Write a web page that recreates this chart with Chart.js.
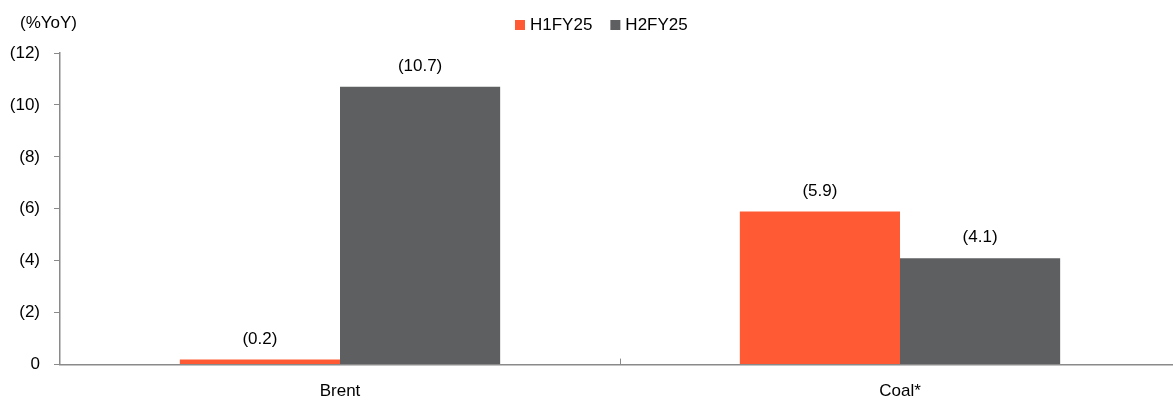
<!DOCTYPE html>
<html>
<head>
<meta charset="utf-8">
<script src="https://cdn.jsdelivr.net/npm/chart.js@4/dist/chart.umd.min.js"></script>
<style>
  html, body { margin: 0; padding: 0; background: #fff; overflow: hidden; }
  #wrap { width: 1180px; height: 401px; }
</style>
</head>
<body>
<div id="wrap"><canvas id="c" width="1180" height="401"></canvas></div>
<script>
// Commodity price change, %YoY (declines shown in parentheses)
const categories = ['Brent', 'Coal*'];
const seriesNames = ['H1FY25', 'H2FY25'];
const h1fy25 = [0.2, 5.9];
const h2fy25 = [10.7, 4.1];
const yTicks = [0, 2, 4, 6, 8, 10, 12];

const colors = ['#FF5A33', '#5E5F61'];
const FONT = 'Liberation Sans, Arial, sans-serif';
const AXIS = '#8a8a8a';

const paren = v => (v === 0 ? '0' : '(' + v + ')');

// Value labels above each bar
const valueLabels = {
  id: 'valueLabels',
  afterDatasetsDraw(chart) {
    const ctx = chart.ctx;
    ctx.save();
    ctx.font = '17px ' + FONT;
    ctx.fillStyle = '#000';
    ctx.textAlign = 'center';
    ctx.textBaseline = 'bottom';
    chart.data.datasets.forEach((ds, di) => {
      chart.getDatasetMeta(di).data.forEach((bar, i) => {
        ctx.fillText('(' + ds.data[i].toFixed(1) + ')', bar.x, bar.y - 12);
      });
    });
    ctx.restore();
  }
};

// Unit caption, legend and inner category-boundary ticks
const decorations = {
  id: 'decorations',
  afterDraw(chart) {
    const ctx = chart.ctx;
    const area = chart.chartArea;
    ctx.save();
    ctx.font = '17px ' + FONT;
    ctx.fillStyle = '#000';
    ctx.textBaseline = 'middle';
    ctx.textAlign = 'left';
    ctx.fillText('(%YoY)', 20, 23);

    // legend
    let x = 515;
    chart.data.datasets.forEach((ds, i) => {
      ctx.fillStyle = ds.backgroundColor;
      ctx.fillRect(x, 20, 10, 10);
      ctx.fillStyle = '#000';
      ctx.fillText(ds.label, x + 15, 25);
      x += 15 + ctx.measureText(ds.label).width + 18;
    });

    // boundary ticks on the category axis, pointing into the plot
    const xs = chart.scales.x;
    ctx.strokeStyle = AXIS;
    ctx.lineWidth = 1;
    for (let i = 1; i < categories.length; i++) {
      const bx = Math.round((xs.getPixelForTick(i - 1) + xs.getPixelForTick(i)) / 2) + 0.5;
      ctx.beginPath();
      ctx.moveTo(bx, area.bottom);
      ctx.lineTo(bx, area.bottom - 6);
      ctx.stroke();
    }
    ctx.restore();
  }
};

new Chart(document.getElementById('c'), {
  type: 'bar',
  data: {
    labels: categories,
    datasets: [
      { label: seriesNames[0], data: h1fy25, backgroundColor: colors[0] },
      { label: seriesNames[1], data: h2fy25, backgroundColor: colors[1] }
    ]
  },
  options: {
    responsive: false,
    animation: false,
    devicePixelRatio: 1,
    layout: { padding: { top: 53, right: 0, bottom: -18, left: 0 } },
    datasets: { bar: { categoryPercentage: 0.572, barPercentage: 1.0 } },
    plugins: { legend: { display: false }, tooltip: { enabled: false } },
    scales: {
      x: {
        grid: { display: false, drawTicks: false },
        border: { display: true, color: AXIS, width: 1.5 },
        ticks: { color: '#000', font: { family: FONT, size: 17 }, padding: 17 }
      },
      y: {
        min: 0, max: 12,
        afterBuildTicks(scale) { scale.ticks = yTicks.map(v => ({ value: v })); },
        afterFit(scale) { scale.width = 60; },
        grid: { drawOnChartArea: false, drawTicks: true, tickLength: 6, color: AXIS },
        border: { display: true, color: AXIS, width: 1.5 },
        ticks: {
          color: '#000', font: { family: FONT, size: 17 }, padding: 14,
          callback: v => paren(v)
        }
      }
    }
  },
  plugins: [valueLabels, decorations]
});
</script>
</body>
</html>
